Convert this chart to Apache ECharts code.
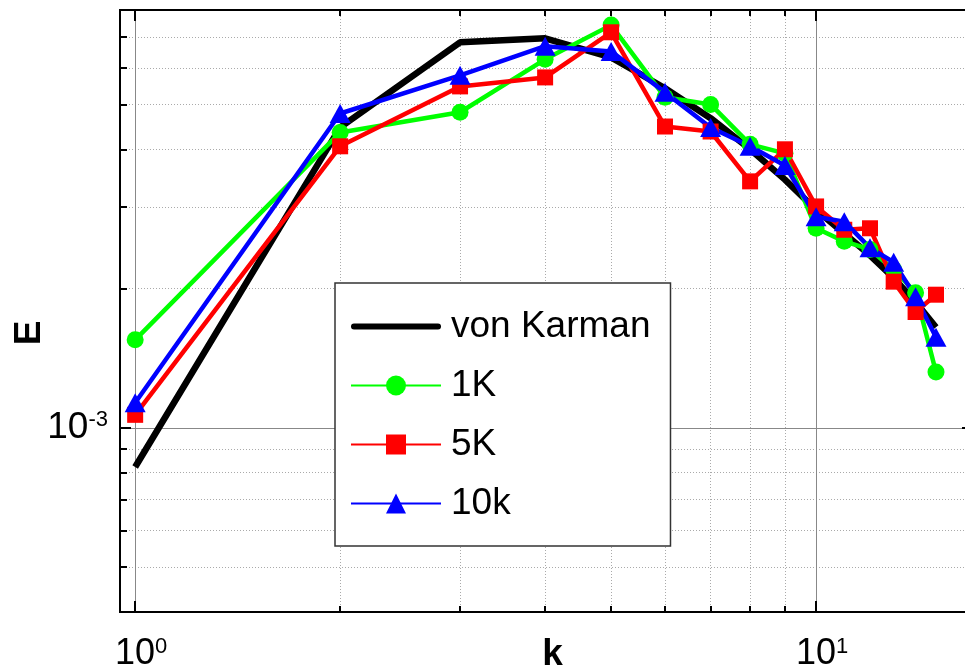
<!DOCTYPE html>
<html><head><meta charset="utf-8">
<script src="https://cdn.jsdelivr.net/npm/echarts@6/dist/echarts.min.js"></script>
<style>html,body{margin:0;padding:0;background:#fff}#c{width:965px;height:671px}</style>
</head><body><div id="c"></div>
<script>
const k = [1, 2, 3, 4, 5, 6, 7, 8, 9, 10, 11, 12, 13, 14, 15];
const vonKarman = [0.823e-3, 4.46e-3, 6.81e-3, 6.95e-3, 6.32e-3, 5.42e-3, 4.67e-3, 4.00e-3, 3.44e-3, 2.96e-3, 2.63e-3, 2.36e-3, 2.11e-3, 1.87e-3, 1.65e-3];
const e1K  = [1.55e-3, 4.35e-3, 4.81e-3, 6.26e-3, 7.42e-3, 5.18e-3, 5.00e-3, 4.10e-3, 3.92e-3, 2.70e-3, 2.53e-3, 2.43e-3, 2.20e-3, 1.96e-3, 1.32e-3];
const e5K  = [1.067e-3, 4.06e-3, 5.47e-3, 5.72e-3, 7.16e-3, 4.48e-3, 4.37e-3, 3.41e-3, 4.00e-3, 3.01e-3, 2.68e-3, 2.70e-3, 2.07e-3, 1.78e-3, 1.94e-3];
const e10k = [1.133e-3, 4.78e-3, 5.78e-3, 6.68e-3, 6.51e-3, 5.31e-3, 4.46e-3, 4.06e-3, 3.69e-3, 2.86e-3, 2.79e-3, 2.45e-3, 2.28e-3, 1.92e-3, 1.57e-3];
const xMinorTicks = [2, 3, 4, 5, 6, 7, 8, 9];
const xMajorTicks = [1, 10];
const yMinorTicks = [5e-4, 6e-4, 7e-4, 8e-4, 9e-4, 2e-3, 3e-3, 4e-3, 5e-3, 6e-3, 7e-3];
const yMajorTicks = [1e-3];
const xTickLabels = [1, 10];
const yTickLabels = [1e-3];
const X_MIN = 0.95, X_MAX = 17, Y_MIN = 4e-4, Y_MAX = 8e-3;

const FONT = "'Liberation Sans', Arial, sans-serif";
const pair = (xs, ys) => xs.map((x, i) => [x, ys[i]]);
const powLabel = v => {
  const e = Math.log10(v);
  if (Math.abs(e - Math.round(e)) > 1e-6) return '';
  return '{b|10}{s|' + Math.round(e) + '}';
};
const richY = {
  b: { fontSize: 37, fontFamily: FONT, color: '#000' },
  s: { fontSize: 22, fontFamily: FONT, color: '#000', verticalAlign: 'top' }
};
const richX = {
  b: { fontSize: 36, fontFamily: FONT, color: '#000', padding: [0, 0, 0, 12] },
  s: { fontSize: 22, fontFamily: FONT, color: '#000', verticalAlign: 'top' }
};

function xAx(pos, ticks, len, split, labels, extra) {
  return Object.assign({
    type: 'log', logBase: 10, min: X_MIN, max: X_MAX, position: pos,
    axisLine: { show: true, lineStyle: { color: '#000', width: 2 } },
    axisTick: { show: true, inside: true, length: len, customValues: ticks, lineStyle: { color: '#000', width: 2 } },
    axisLabel: labels ? { show: true, customValues: labels, formatter: powLabel, rich: richX, margin: 24 } : { show: false },
    splitLine: split ? { show: true, lineStyle: split } : { show: false },
    minorTick: { show: false }, minorSplitLine: { show: false }
  }, extra || {});
}
function yAx(pos, ticks, len, split, labels, extra) {
  return Object.assign({
    type: 'log', logBase: 10, min: Y_MIN, max: Y_MAX, position: pos,
    axisLine: { show: true, lineStyle: { color: '#000', width: 2 } },
    axisTick: { show: true, inside: true, length: len, customValues: ticks, lineStyle: { color: '#000', width: 2 } },
    axisLabel: labels ? { show: true, customValues: labels, formatter: powLabel, rich: richY, margin: 12 } : { show: false },
    splitLine: split ? { show: true, lineStyle: split } : { show: false },
    minorTick: { show: false }, minorSplitLine: { show: false }
  }, extra || {});
}
const dotted = { color: '#aaa', width: 1, type: [1, 2] };
const solidV = { color: '#888', width: 1, type: 'solid' };

const chart = echarts.init(document.getElementById('c'), null, { renderer: 'canvas' });
chart.setOption({
  backgroundColor: '#fff',
  animation: false,
  grid: { left: 120, top: 10, width: 853, height: 602, containLabel: false, outerBoundsMode: 'none' },
  xAxis: [
    xAx('bottom', xMinorTicks, 6, dotted, xTickLabels, {
      name: 'k', nameLocation: 'middle', nameGap: 24, nameMoveOverlap: false,
      nameTextStyle: { fontSize: 37, fontWeight: 'bold', fontFamily: FONT, color: '#000', padding: [0, 0, 0, 12] }
    }),
    xAx('bottom', xMajorTicks, 11, solidV, null),
    xAx('top', xMinorTicks, 6, null, null),
    xAx('top', xMajorTicks, 11, null, null)
  ],
  yAxis: [
    yAx('left', yMinorTicks, 7, dotted, yTickLabels, {
      name: 'E', nameLocation: 'middle', nameGap: 72, nameMoveOverlap: false,
      nameTextStyle: { fontSize: 37, fontWeight: 'bold', fontFamily: FONT, color: '#000', padding: [0, 44, 0, 0] }
    }),
    yAx('left', yMajorTicks, 11, solidV, null),
    yAx('right', yMinorTicks, 7, null, null),
    yAx('right', yMajorTicks, 11, null, null)
  ],
  legend: {
    orient: 'vertical', left: 335, top: 283,
    padding: [25, 20, 24, 15],
    itemWidth: 90, itemHeight: 25, itemGap: 22,
    borderColor: '#333', borderWidth: 1.5, backgroundColor: '#fff',
    textStyle: { fontSize: 37, fontFamily: FONT, color: '#000', padding: [0, 0, 0, 5] },
    data: [
      { name: 'von Karman', icon: 'path://M3,0 H87 A3,3 0 0 1 87,6 H3 A3,3 0 0 1 3,0 Z' },
      '1K', '5K', '10k'
    ]
  },
  series: [
    { name: 'von Karman', type: 'line', data: pair(k, vonKarman), symbol: 'none',
      lineStyle: { color: '#000', width: 6.5 }, itemStyle: { color: '#000' } },
    { name: '1K', type: 'line', data: pair(k, e1K), symbol: 'circle', symbolSize: 17,
      lineStyle: { color: '#00ff00', width: 4.5 }, itemStyle: { color: '#00ff00' } },
    { name: '5K', type: 'line', data: pair(k, e5K), symbol: 'rect', symbolSize: 16,
      lineStyle: { color: '#ff0000', width: 4.5 }, itemStyle: { color: '#ff0000' } },
    { name: '10k', type: 'line', data: pair(k, e10k), symbol: 'triangle', symbolSize: [21, 19],
      lineStyle: { color: '#0000ff', width: 4.5 }, itemStyle: { color: '#0000ff' } }
  ]
});
</script></body></html>
